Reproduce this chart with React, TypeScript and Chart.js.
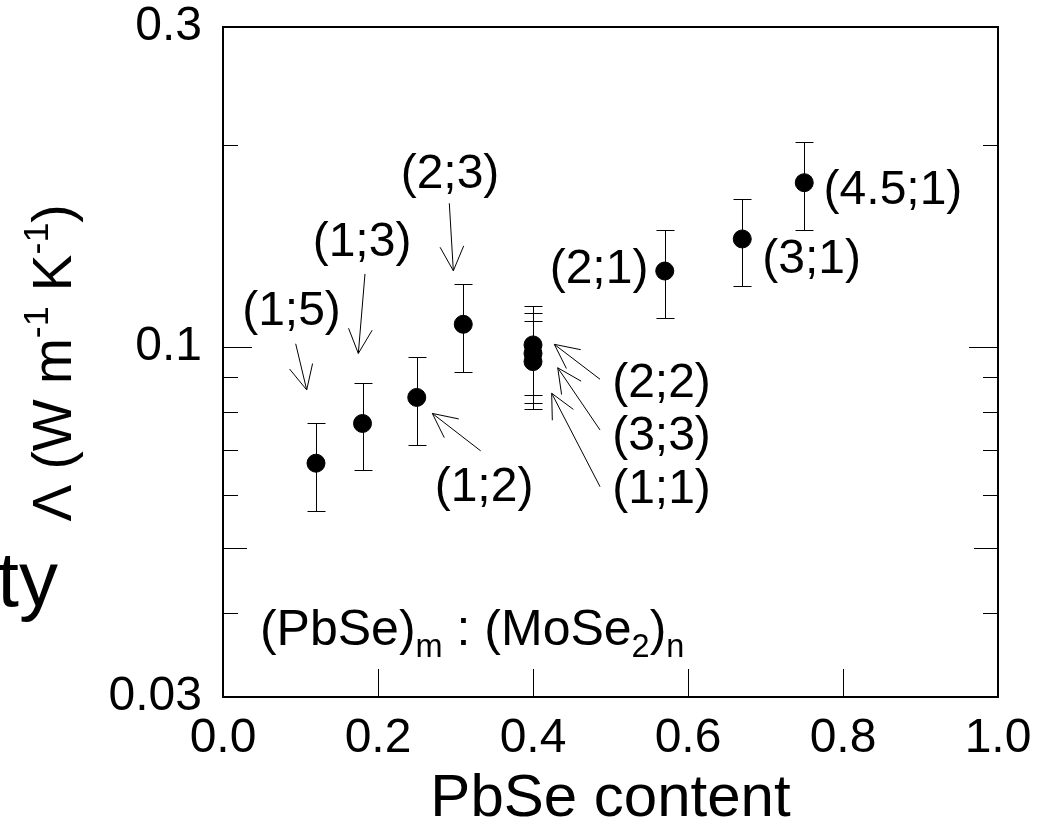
import React, { useEffect, useRef } from "react";
import { Chart, registerables } from "chart.js";

Chart.register(...registerables);

// ---------- data ----------
const pointLabels = ["(1;5)", "(1;3)", "(1;2)", "(2;3)", "(2;2)", "(3;3)", "(1;1)", "(2;1)", "(3;1)", "(4.5;1)"];
const pbseContent = [0.12, 0.18, 0.25, 0.31, 0.4, 0.4, 0.4, 0.57, 0.67, 0.75];
const conductivity = [0.067, 0.0768, 0.084, 0.108, 0.1006, 0.0977, 0.095, 0.1297, 0.1448, 0.1757];
const errorUpper = [0.0768, 0.0883, 0.0964, 0.124, 0.115, 0.1122, 0.1092, 0.1493, 0.1663, 0.2021];
const errorLower = [0.0569, 0.0655, 0.0713, 0.0918, 0.0847, 0.0825, 0.0807, 0.1104, 0.1232, 0.1493];

const xTickValues = [0, 0.2, 0.4, 0.6, 0.8, 1.0];
const yTickValues = [0.03, 0.04, 0.05, 0.06, 0.07, 0.08, 0.09, 0.1, 0.2, 0.3];
const yLabeledTicks = [0.03, 0.1, 0.3];

// label anchor positions (data coordinates) for each point label
const labelX = [0.0884, 0.1794, 0.3368, 0.2929, 0.5658, 0.5658, 0.5658, 0.4852, 0.7596, 0.8645];
const labelY = [0.1127, 0.1428, 0.0615, 0.1804, 0.088, 0.0733, 0.0611, 0.1302, 0.1347, 0.1707];
// arrows (data coordinates): start -> tip; null = no arrow
const arrowFromX = [0.0938, 0.1832, 0.3325, 0.292, 0.4865, 0.4865, 0.4865, null, null, null];
const arrowFromY = [0.101, 0.1284, 0.0699, 0.1637, 0.0894, 0.0751, 0.0618, null, null, null];
const arrowToX = [0.108, 0.1746, 0.2701, 0.2972, 0.4275, 0.4319, 0.4241, null, null, null];
const arrowToY = [0.0862, 0.0977, 0.0795, 0.1298, 0.1008, 0.093, 0.0852, null, null, null];

const formulaX = 0.0477;
const formulaY = 0.0359;

const FONT = "'Liberation Sans', Arial, Helvetica, sans-serif";
const TARGET = { left: 223, top: 27, right: 998, bottom: 697 };

type Part = { t: string; m?: "sub" | "sup" };

function drawRich(ctx: CanvasRenderingContext2D, parts: Part[], x: number, y: number, size: number, measureOnly = false) {
  let cx = x;
  for (const p of parts) {
    const s = p.m ? size * 0.65 : size;
    ctx.font = `${s}px ${FONT}`;
    const dy = p.m === "sub" ? size * 0.25 : p.m === "sup" ? -size * 0.42 : 0;
    if (!measureOnly) ctx.fillText(p.t, cx, y + dy);
    cx += ctx.measureText(p.t).width;
  }
  return cx - x;
}

const decorPlugin = {
  id: "decor",
  beforeDatasetsDraw(chart: any) {
    const ctx: CanvasRenderingContext2D = chart.ctx;
    const xs = chart.scales.x;
    const ys = chart.scales.y;
    ctx.save();
    ctx.strokeStyle = "#000";
    ctx.lineWidth = 1;
    for (let i = 0; i < pbseContent.length; i++) {
      const x = Math.round(xs.getPixelForValue(pbseContent[i])) + 0.5;
      const y1 = Math.round(ys.getPixelForValue(errorUpper[i])) + 0.5;
      const y2 = Math.round(ys.getPixelForValue(errorLower[i])) + 0.5;
      ctx.beginPath();
      ctx.moveTo(x, y1);
      ctx.lineTo(x, y2);
      ctx.moveTo(x - 9, y1);
      ctx.lineTo(x + 9, y1);
      ctx.moveTo(x - 9, y2);
      ctx.lineTo(x + 9, y2);
      ctx.stroke();
    }
    ctx.restore();
  },
  afterDatasetsDraw(chart: any) {
    const ctx: CanvasRenderingContext2D = chart.ctx;
    const xs = chart.scales.x;
    const ys = chart.scales.y;
    ctx.save();
    ctx.fillStyle = "#000";
    ctx.strokeStyle = "#000";
    ctx.lineWidth = 1;
    ctx.textAlign = "center";
    ctx.textBaseline = "middle";
    ctx.font = `48px ${FONT}`;
    for (let i = 0; i < pointLabels.length; i++) {
      ctx.fillText(pointLabels[i], xs.getPixelForValue(labelX[i]), ys.getPixelForValue(labelY[i]));
      if (arrowFromX[i] !== null) {
        const fx = xs.getPixelForValue(arrowFromX[i] as number);
        const fy = ys.getPixelForValue(arrowFromY[i] as number);
        const tx = xs.getPixelForValue(arrowToX[i] as number);
        const ty = ys.getPixelForValue(arrowToY[i] as number);
        const ang = Math.atan2(ty - fy, tx - fx);
        const head = 27;
        const spread = (26 * Math.PI) / 180;
        ctx.beginPath();
        ctx.moveTo(fx, fy);
        ctx.lineTo(tx, ty);
        ctx.moveTo(tx + head * Math.cos(ang + Math.PI - spread), ty + head * Math.sin(ang + Math.PI - spread));
        ctx.lineTo(tx, ty);
        ctx.lineTo(tx + head * Math.cos(ang + Math.PI + spread), ty + head * Math.sin(ang + Math.PI + spread));
        ctx.stroke();
      }
    }
    // formula label
    ctx.textAlign = "left";
    ctx.textBaseline = "alphabetic";
    drawRich(
      ctx,
      [{ t: "(PbSe)" }, { t: "m", m: "sub" }, { t: " : (MoSe" }, { t: "2", m: "sub" }, { t: ")" }, { t: "n", m: "sub" }],
      xs.getPixelForValue(formulaX),
      ys.getPixelForValue(formulaY),
      50
    );
    ctx.restore();
  },
  afterDraw(chart: any) {
    const ctx: CanvasRenderingContext2D = chart.ctx;
    const { left, right, top, bottom } = chart.chartArea;
    const ys = chart.scales.y;
    const xs = chart.scales.x;
    ctx.save();
    ctx.strokeStyle = "#000";
    // inward ticks
    ctx.lineWidth = 1;
    ctx.beginPath();
    for (const v of yTickValues) {
      if (v === 0.03 || v === 0.3) continue;
      const y = Math.round(ys.getPixelForValue(v)) + 0.5;
      const len = v === 0.1 ? 29 : v === 0.05 ? 24 : 15;
      ctx.moveTo(left, y);
      ctx.lineTo(left + len, y);
      ctx.moveTo(right, y);
      ctx.lineTo(right - len, y);
    }
    for (const v of xTickValues) {
      if (v === 0 || v === 1) continue;
      const x = Math.round(xs.getPixelForValue(v)) + 0.5;
      ctx.moveTo(x, bottom);
      ctx.lineTo(x, bottom - 28);
    }
    ctx.stroke();
    // frame
    ctx.lineWidth = 2;
    ctx.strokeRect(left, top, right - left, bottom - top);

    // y axis title (rotated, with superscripts)
    ctx.fillStyle = "#000";
    ctx.textAlign = "left";
    ctx.textBaseline = "alphabetic";
    const yTitle: Part[] = [{ t: "Λ (W m" }, { t: "-1", m: "sup" }, { t: " K" }, { t: "-1", m: "sup" }, { t: ")" }];
    const size = 55;
    const w = drawRich(ctx, yTitle, 0, 0, size, true);
    ctx.translate(71, 363);
    ctx.rotate(-Math.PI / 2);
    drawRich(ctx, yTitle, -w / 2, 0, size);
    ctx.restore();

    // clipped leftover text at the left edge
    ctx.save();
    ctx.fillStyle = "#000";
    ctx.font = `78px ${FONT}`;
    ctx.textAlign = "right";
    ctx.textBaseline = "alphabetic";
    ctx.fillText("conductivity", 58, 606);
    ctx.restore();
  },
};

export default function App() {
  const canvasRef = useRef<HTMLCanvasElement | null>(null);

  useEffect(() => {
    const canvas = canvasRef.current;
    if (!canvas) return;
    const padding = { top: 27, right: 49, left: 0, bottom: 0 };
    const chart = new Chart(canvas, {
      type: "scatter",
      data: {
        datasets: [
          {
            data: pbseContent.map((x, i) => ({ x, y: conductivity[i] })),
            pointRadius: 9,
            pointBackgroundColor: "#000",
            pointBorderColor: "#000",
            pointBorderWidth: 1,
            showLine: false,
          },
        ],
      },
      options: {
        animation: false,
        responsive: false,
        devicePixelRatio: 1,
        layout: { padding },
        plugins: { legend: { display: false }, tooltip: { enabled: false } },
        scales: {
          x: {
            type: "linear",
            min: 0,
            max: 1,
            grid: { display: false, drawTicks: false },
            border: { display: false },
            ticks: {
              font: { family: FONT, size: 48 },
              color: "#000",
              padding: 13,
              maxRotation: 0,
              autoSkip: false,
              callback: (v: any) => Number(v).toFixed(1),
            },
            afterBuildTicks: (s: any) => {
              s.ticks = xTickValues.map((v) => ({ value: v }));
            },
            afterFit: (s: any) => {
              s.height = 126;
            },
            title: {
              display: true,
              text: "PbSe content",
              color: "#000",
              font: { family: FONT, size: 60, lineHeight: 0.8 },
              padding: 0,
            },
          },
          y: {
            type: "logarithmic",
            min: 0.03,
            max: 0.3,
            grid: { display: false, drawTicks: false },
            border: { display: false },
            ticks: {
              font: { family: FONT, size: 48, lineHeight: 0.1 },
              color: "#000",
              padding: 21,
              autoSkip: false,
              callback: (v: any) => {
                const n = Number(v);
                return yLabeledTicks.some((t) => Math.abs(t - n) < 1e-9) ? String(n) : "";
              },
            },
            afterBuildTicks: (s: any) => {
              s.ticks = yTickValues.map((v) => ({ value: v }));
            },
            afterFit: (s: any) => {
              s.width = 223;
            },
          },
        },
      },
      plugins: [decorPlugin],
    } as any);

    // nudge layout padding so the plot frame lands where the reference has it
    for (let k = 0; k < 4; k++) {
      const ca = chart.chartArea;
      const dt = TARGET.top - ca.top;
      const db = ca.bottom - TARGET.bottom;
      const dr = ca.right - TARGET.right;
      const dl = TARGET.left - ca.left;
      if (Math.abs(dt) < 0.5 && Math.abs(db) < 0.5 && Math.abs(dr) < 0.5 && Math.abs(dl) < 0.5) break;
      padding.top = Math.max(0, padding.top + dt);
      padding.bottom = Math.max(0, padding.bottom + db);
      padding.right = Math.max(0, padding.right + dr);
      padding.left = Math.max(0, padding.left + dl);
      (chart.options as any).layout.padding = { ...padding };
      chart.update();
    }
    return () => chart.destroy();
  }, []);

  return (
    <div style={{ position: "fixed", left: 0, top: 0, width: 1047, height: 823, background: "#fff" }}>
      <canvas ref={canvasRef} width={1047} height={823} style={{ display: "block", width: 1047, height: 823 }} />
    </div>
  );
}
